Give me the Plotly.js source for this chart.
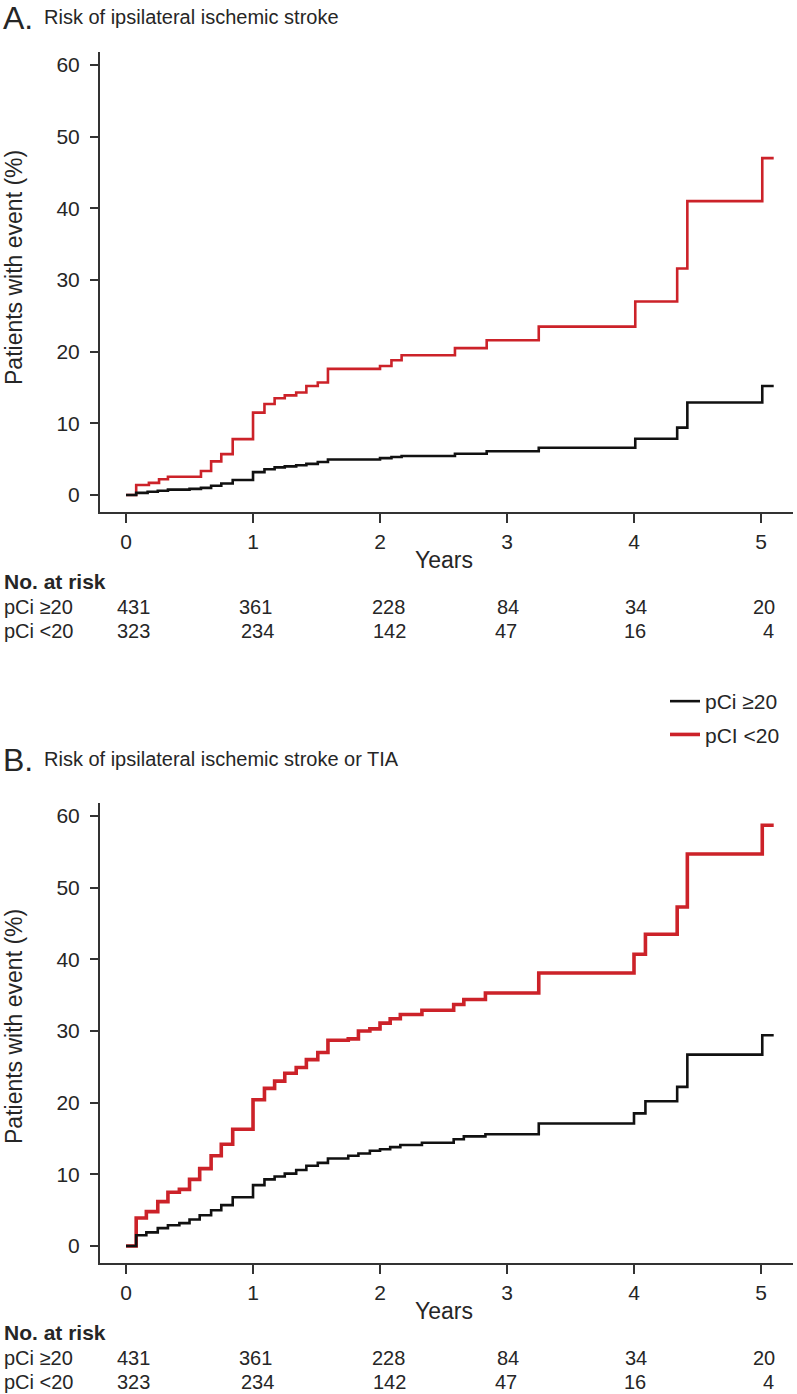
<!DOCTYPE html>
<html>
<head>
<meta charset="utf-8">
<script src="https://cdn.plot.ly/plotly-3.0.1.min.js"></script>
<style>
  html, body { margin: 0; padding: 0; background: #fff; }
  #chart { width: 797px; height: 1394px; }
</style>
</head>
<body>
<div id="chart"></div>
<script>
// ---------- DATA ----------
const seriesNames = ["pCi \u226520", "pCI <20"];
const riskLabels = ["pCi \u226520", "pCi <20"];
const riskTimes = [0, 1, 2, 3, 4, 5];
const riskHigh = [431, 361, 228, 84, 34, 20];
const riskLow = [323, 234, 142, 47, 16, 4];

// Panel A: ipsilateral ischemic stroke
const aHighT = [0, 0.08, 0.17, 0.25, 0.33, 0.5, 0.59, 0.67, 0.75, 0.84, 1.0, 1.09, 1.17, 1.25, 1.34, 1.42, 1.51, 1.59, 2.0, 2.09, 2.17, 2.59, 2.84, 3.25, 4.01, 4.34, 4.42, 5.01, 5.1];
const aHighV = [0, 0.3, 0.45, 0.6, 0.75, 0.85, 1.0, 1.3, 1.6, 2.1, 3.2, 3.6, 3.85, 4.0, 4.15, 4.35, 4.6, 4.95, 5.15, 5.3, 5.45, 5.75, 6.1, 6.6, 7.85, 9.4, 12.9, 15.2, 15.2];
const aLowT = [0, 0.08, 0.18, 0.26, 0.33, 0.59, 0.67, 0.75, 0.84, 1.0, 1.09, 1.17, 1.25, 1.34, 1.42, 1.51, 1.59, 2.0, 2.09, 2.17, 2.59, 2.84, 3.25, 4.01, 4.34, 4.42, 5.01, 5.1];
const aLowV = [0, 1.4, 1.7, 2.2, 2.55, 3.35, 4.7, 5.7, 7.8, 11.5, 12.7, 13.5, 13.9, 14.3, 15.2, 15.7, 17.6, 18.0, 18.8, 19.5, 20.5, 21.6, 23.5, 27.0, 31.6, 41.0, 47.0, 47.0];

// Panel B: ipsilateral ischemic stroke or TIA
const bT = [0, 0.08, 0.16, 0.25, 0.33, 0.42, 0.5, 0.58, 0.67, 0.75, 0.84, 1.0, 1.09, 1.17, 1.25, 1.34, 1.42, 1.51, 1.59, 1.75, 1.83, 1.92, 2.0, 2.08, 2.16, 2.33, 2.58, 2.66, 2.83, 3.25, 4.0, 4.09, 4.34, 4.42, 5.01, 5.1];
const bHighV = [0, 1.5, 1.9, 2.5, 2.9, 3.2, 3.7, 4.3, 5.0, 5.7, 6.8, 8.5, 9.3, 9.7, 10.1, 10.6, 11.2, 11.6, 12.2, 12.6, 12.9, 13.3, 13.5, 13.8, 14.1, 14.4, 14.9, 15.3, 15.6, 17.1, 18.5, 20.2, 22.2, 26.7, 29.4, 29.4];
const bLowV = [0, 3.9, 4.8, 6.2, 7.5, 7.9, 9.3, 10.8, 12.6, 14.2, 16.3, 20.4, 22.0, 23.0, 24.1, 24.9, 26.0, 27.0, 28.7, 28.9, 30.0, 30.3, 31.1, 31.7, 32.3, 32.9, 33.7, 34.4, 35.3, 38.1, 40.7, 43.5, 47.3, 54.7, 58.7, 58.7];

const panelTitles = ["Risk of ipsilateral ischemic stroke", "Risk of ipsilateral ischemic stroke or TIA"];
const panelLetters = ["A.", "B."];
const yTitle = "Patients with event (%)";
const xTitle = "Years";

// ---------- STYLE ----------
const W = 797, H = 1394;
const FONT = "Liberation Sans, Arial, Helvetica, sans-serif";
const TXT = "#262626";
const RED = "#cc2229";
const BLK = "#111111";
const px = v => v / W;
const py = v => 1 - v / H;

const traces = [
  {x: aLowT, y: aLowV, xaxis: "x", yaxis: "y", mode: "lines", line: {shape: "hv", color: RED, width: 2.6}, name: seriesNames[1], showlegend: false, hoverinfo: "skip"},
  {x: aHighT, y: aHighV, xaxis: "x", yaxis: "y", mode: "lines", line: {shape: "hv", color: BLK, width: 2.6}, name: seriesNames[0], showlegend: false, hoverinfo: "skip"},
  {x: bT, y: bLowV, xaxis: "x2", yaxis: "y2", mode: "lines", line: {shape: "hv", color: RED, width: 3.6}, name: seriesNames[1], legendgroup: "g2", legendrank: 2, showlegend: true, hoverinfo: "skip"},
  {x: bT, y: bHighV, xaxis: "x2", yaxis: "y2", mode: "lines", line: {shape: "hv", color: BLK, width: 2.6}, name: seriesNames[0], legendgroup: "g1", legendrank: 1, showlegend: true, hoverinfo: "skip"}
];

function xAxis(anchor) {
  return {
    domain: [px(100), px(793)], range: [-0.205, 5.252], anchor: anchor,
    tickmode: "linear", tick0: 0, dtick: 1,
    ticks: "outside", ticklen: 9, tickwidth: 2, tickcolor: "#333",
    showline: true, linewidth: 2, linecolor: "#333",
    showgrid: false, zeroline: false, fixedrange: true,
    tickfont: {family: FONT, size: 21, color: TXT}, ticklabelstandoff: 1
  };
}
function yAxis(anchor, top, bottom) {
  return {
    domain: [py(bottom), py(top)], range: [-2.37, 61.81], anchor: anchor,
    tickmode: "linear", tick0: 0, dtick: 10,
    ticks: "outside", ticklen: 8, tickwidth: 2, tickcolor: "#333",
    showline: true, linewidth: 2, linecolor: "#333",
    showgrid: false, zeroline: false, fixedrange: true,
    tickfont: {family: FONT, size: 21, color: TXT}, ticklabelstandoff: 6
  };
}

const ann = [];
const panelOffsets = [0, 751];
const titleY = [18, 760];
const yTitleY = [268, 1027];
const shiftsHigh = [7, 2, 8, 1, 2, 3];
const shiftsLow = [7, 4, 9, -1, 1, 7];
["x", "x2"].forEach((xr, i) => {
  const off = panelOffsets[i];
  ann.push({xref: "paper", yref: "paper", x: px(1), y: py(titleY[i]), xanchor: "left", yanchor: "middle", showarrow: false,
    text: panelLetters[i], font: {family: FONT, size: 32, color: TXT}});
  ann.push({xref: "paper", yref: "paper", x: px(42), y: py(titleY[i] - 1), xanchor: "left", yanchor: "middle", showarrow: false,
    text: panelTitles[i], font: {family: FONT, size: 20, color: TXT}});
  ann.push({xref: "paper", yref: "paper", x: px(14), y: py(yTitleY[i]), xanchor: "center", yanchor: "middle", textangle: -90, showarrow: false,
    text: yTitle, font: {family: FONT, size: 23, color: TXT}});
  ann.push({xref: "paper", yref: "paper", x: px(444), y: py(560 + off), xanchor: "center", yanchor: "middle", showarrow: false,
    text: xTitle, font: {family: FONT, size: 23, color: TXT}});
  ann.push({xref: "paper", yref: "paper", x: px(2), y: py(581 + off), xanchor: "left", yanchor: "middle", showarrow: false,
    text: "<b>No. at risk</b>", font: {family: FONT, size: 21, color: TXT}});
  ann.push({xref: "paper", yref: "paper", x: px(2), y: py(607 + off), xanchor: "left", yanchor: "middle", showarrow: false,
    text: riskLabels[0], font: {family: FONT, size: 20, color: TXT}});
  ann.push({xref: "paper", yref: "paper", x: px(2), y: py(631 + off), xanchor: "left", yanchor: "middle", showarrow: false,
    text: riskLabels[1], font: {family: FONT, size: 20, color: TXT}});
  riskTimes.forEach((t, k) => {
    ann.push({xref: xr, yref: "paper", x: t, xshift: shiftsHigh[k], y: py(607 + off), xanchor: "center", yanchor: "middle", showarrow: false,
      text: String(riskHigh[k]), font: {family: FONT, size: 20, color: TXT}});
    ann.push({xref: xr, yref: "paper", x: t, xshift: shiftsLow[k], y: py(631 + off), xanchor: "center", yanchor: "middle", showarrow: false,
      text: String(riskLow[k]), font: {family: FONT, size: 20, color: TXT}});
  });
});

const layout = {
  width: W, height: H,
  margin: {l: 0, r: 0, t: 0, b: 0, pad: 0},
  paper_bgcolor: "#ffffff", plot_bgcolor: "#ffffff",
  font: {family: FONT, color: TXT},
  xaxis: xAxis("y"), yaxis: yAxis("x", 52, 512),
  xaxis2: xAxis("y2"), yaxis2: yAxis("x2", 803, 1263),
  showlegend: true,
  legend: {x: px(665), y: py(681), xanchor: "left", yanchor: "top", traceorder: "grouped", tracegroupgap: 3,
    font: {family: FONT, size: 21, color: TXT}, bgcolor: "rgba(0,0,0,0)", borderwidth: 0, itemwidth: 30},
  annotations: ann
};

Plotly.newPlot("chart", traces, layout, {staticPlot: true, displayModeBar: false});
</script>
</body>
</html>
